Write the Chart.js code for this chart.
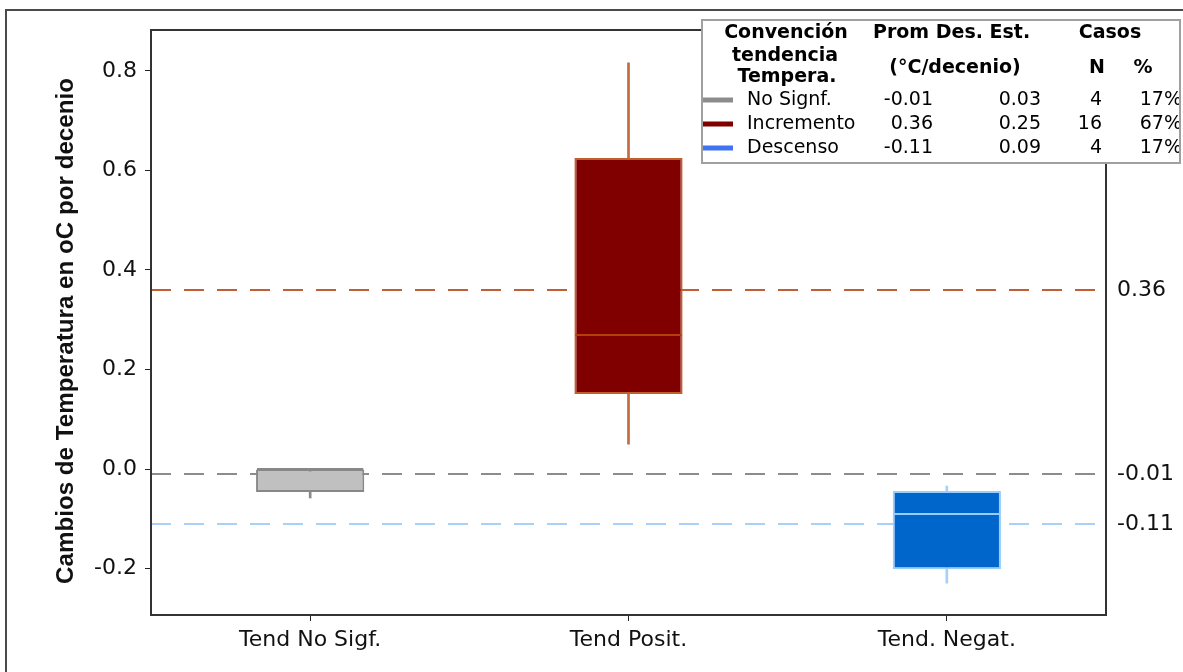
<!DOCTYPE html>
<html>
<head>
<meta charset="utf-8">
<script src="https://cdn.jsdelivr.net/npm/chart.js@4.4.1/dist/chart.umd.min.js"></script>
<style>
  body { margin: 0; background: #fff; }
  #wrap { width: 1183px; height: 672px; position: relative; }
</style>
</head>
<body>
<div id="wrap"><canvas id="chart"></canvas></div>
<script>
// categories and box-plot statistics per trend group
const categories = ['Tend No Sigf.', 'Tend Posit.', 'Tend. Negat.'];
const whiskerLow = [-0.058, 0.050, -0.229];
const q1 = [-0.046, 0.151, -0.201];
const median = [0.0, 0.269, -0.090];
const q3 = [0.0, 0.625, -0.044];
const whiskerHigh = [0.0, 0.816, -0.034];

// summary table
const groupNames = ['No Signf.', 'Incremento', 'Descenso'];
const groupMeans = [-0.01, 0.36, -0.11];
const groupSD = [0.03, 0.25, 0.09];
const groupN = [4, 16, 4];
const groupPct = [17, 67, 17];

const yTicks = [-0.2, 0.0, 0.2, 0.4, 0.6, 0.8];
const yMin = -0.293, yMax = 0.882;

const boxFill = ['#c0c0c0', '#800000', '#0066cc'];
const boxEdge = ['#888888', '#c0602c', '#99ccff'];
const whiskerColor = ['#8a8a8a', '#c46a3c', '#a6d0fa'];
const medianColor = ['#888888', '#b0400c', '#99ccff'];
const meanLineColor = ['#8c8c8c', '#bf5f35', '#a8d0f8'];
const keyColor = ['#8c8c8c', '#800000', '#3f72f5'];

const axisFont = { family: 'DejaVu Sans', size: 22 };

const extras = {
    id: 'extras',
    beforeDatasetsDraw(chart) {
        // dashed mean lines across the plot
        const { ctx, chartArea: a, scales: { y } } = chart;
        ctx.save();
        ctx.setLineDash([20, 13]);
        ctx.lineWidth = 2;
        groupMeans.forEach((m, i) => {
            const py = Math.round(y.getPixelForValue(m));
            ctx.strokeStyle = meanLineColor[i];
            ctx.beginPath();
            ctx.moveTo(a.left, py);
            ctx.lineTo(a.right, py);
            ctx.stroke();
        });
        ctx.restore();
    },
    afterDatasetsDraw(chart) {
        const { ctx, chartArea: a, scales: { y } } = chart;
        // median lines inside each box
        const meta = chart.getDatasetMeta(0);
        ctx.save();
        ctx.lineWidth = 2;
        meta.data.forEach((bar, i) => {
            const py = Math.round(y.getPixelForValue(median[i]));
            ctx.strokeStyle = medianColor[i];
            ctx.beginPath();
            ctx.moveTo(bar.x - bar.width / 2 + 1, py);
            ctx.lineTo(bar.x + bar.width / 2 - 1, py);
            ctx.stroke();
        });
        // plot frame
        ctx.strokeStyle = '#333';
        ctx.lineWidth = 2;
        ctx.strokeRect(a.left, a.top, a.right - a.left, a.bottom - a.top);
        ctx.restore();
    },
    afterDraw(chart) {
        const { ctx } = chart;
        ctx.save();

        // outer frame
        ctx.strokeStyle = '#4a4a4a';
        ctx.lineWidth = 2;
        ctx.strokeRect(6, 10, 1300, 800);

        // y axis title, condensed to fit the plot height
        const title = 'Cambios de Temperatura en oC por decenio';
        ctx.font = 'bold 23px "Liberation Sans"';
        const w = ctx.measureText(title).width;
        ctx.translate(67, 331);
        ctx.rotate(-Math.PI / 2);
        ctx.scale(506 / w, 1);
        ctx.fillStyle = '#111';
        ctx.textAlign = 'center';
        ctx.textBaseline = 'middle';
        ctx.fillText(title, 0, 0);
        ctx.setTransform(1, 0, 0, 1, 0, 0);

        // summary table
        const bx = 702, by = 20, bw = 478, bh = 143;
        ctx.fillStyle = '#fff';
        ctx.fillRect(bx, by, bw, bh);

        ctx.fillStyle = '#000';
        ctx.textBaseline = 'middle';
        ctx.font = 'bold 19px "DejaVu Sans"';
        ctx.textAlign = 'center';
        ctx.fillText('Convención', 786, 33);
        ctx.fillText('tendencia', 785, 56);
        ctx.fillText('Tempera.', 787, 77);
        ctx.fillText('(°C/decenio)', 955, 68);
        ctx.fillText('Casos', 1110, 33);
        ctx.fillText('N', 1097, 68);
        ctx.fillText('%', 1143, 68);
        ctx.textAlign = 'left';
        ctx.fillText('Prom Des. Est.', 873, 33);

        ctx.font = '19px "DejaVu Sans"';
        const rowY = [100, 124, 148];
        groupNames.forEach((name, i) => {
            const ry = rowY[i];
            ctx.fillStyle = keyColor[i];
            ctx.fillRect(bx, ry - 2.5, 31, 5);
            ctx.fillStyle = '#000';
            ctx.textAlign = 'left';
            ctx.fillText(name, 747, ry);
            ctx.textAlign = 'right';
            ctx.fillText(groupMeans[i].toFixed(2), 933, ry);
            ctx.fillText(groupSD[i].toFixed(2), 1041, ry);
            ctx.fillText(String(groupN[i]), 1102, ry);
            ctx.fillText(groupPct[i] + '%', 1182, ry);
        });

        ctx.strokeStyle = '#a0a0a0';
        ctx.lineWidth = 2;
        ctx.strokeRect(bx, by, bw, bh);
        ctx.restore();
    }
};

const ctx = document.getElementById('chart').getContext('2d');
const chart = new Chart(ctx, {
    type: 'bar',
    data: {
        labels: categories,
        datasets: [
            {
                label: 'Caja',
                data: categories.map((_, i) => [q1[i], q3[i]]),
                backgroundColor: boxFill,
                borderColor: boxEdge,
                borderWidth: 2,
                borderSkipped: false,
                barPercentage: 0.34,
                categoryPercentage: 1,
                grouped: false,
                order: 1
            },
            {
                label: 'Bigotes',
                data: categories.map((_, i) => [whiskerLow[i], whiskerHigh[i]]),
                backgroundColor: whiskerColor,
                borderWidth: 0,
                barThickness: 2,
                grouped: false,
                order: 2
            }
        ]
    },
    options: {
        responsive: true,
        maintainAspectRatio: false,
        animation: false,
        layout: { padding: { top: 30, left: 0, right: 0, bottom: 0 } },
        plugins: {
            legend: { display: false },
            tooltip: { enabled: false }
        },
        scales: {
            x: {
                type: 'category',
                border: { display: false },
                grid: { display: true, offset: false, drawOnChartArea: false, drawTicks: true, tickLength: 6, color: '#222' },
                ticks: { font: axisFont, color: '#111', padding: 6, maxRotation: 0 },
                afterFit(s) { s.height = 57; }
            },
            y: {
                position: 'left',
                min: yMin,
                max: yMax,
                border: { display: false },
                grid: { display: true, drawOnChartArea: false, drawTicks: true, tickLength: 6, color: '#222' },
                afterBuildTicks(s) { s.ticks = yTicks.map(v => ({ value: v })); },
                ticks: { font: axisFont, color: '#111', padding: 8, callback: v => v.toFixed(1) },
                afterFit(s) { s.width = 151; }
            },
            y2: {
                position: 'right',
                min: yMin,
                max: yMax,
                border: { display: false },
                grid: { display: false },
                afterBuildTicks(s) { s.ticks = [...groupMeans].sort((p, q) => p - q).map(v => ({ value: v })); },
                ticks: { font: axisFont, color: '#111', padding: 3, callback: v => v.toFixed(2) },
                afterFit(s) { s.width = 77; }
            }
        }
    },
    plugins: [extras]
});
</script>
</body>
</html>
